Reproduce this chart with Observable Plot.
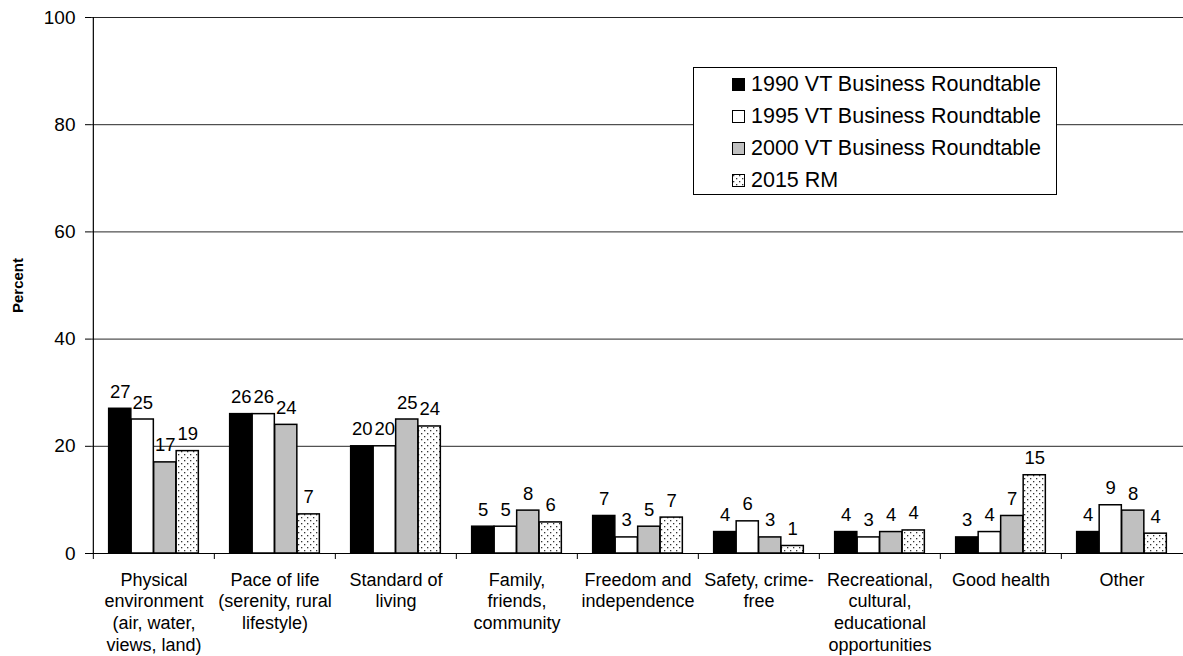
<!DOCTYPE html>
<html>
<head>
<meta charset="utf-8">
<script src="https://cdn.jsdelivr.net/npm/d3@7"></script>
<script src="https://cdn.jsdelivr.net/npm/@observablehq/plot@0.6"></script>
<style>
  body { margin: 0; background: #fff; }
  #wrap { position: relative; width: 1183px; height: 656px; font-family: "Liberation Sans", Arial, Helvetica, sans-serif; }
  #legend { position: absolute; left: 693px; top: 67px; width: 362px; height: 126px; border: 1px solid #000; background: #fff; box-sizing: content-box; }
  .row { position: absolute; left: 38px; height: 24px; display: flex; align-items: center; font-size: 21.5px; color: #000; white-space: nowrap; }
  .row svg { margin-right: 6px; }
</style>
</head>
<body>
<div id="wrap"></div>
<script>
const categories = [
  "Physical\nenvironment\n(air, water,\nviews, land)",
  "Pace of life\n(serenity, rural\nlifestyle)",
  "Standard of\nliving",
  "Family,\nfriends,\ncommunity",
  "Freedom and\nindependence",
  "Safety, crime-\nfree",
  "Recreational,\ncultural,\neducational\nopportunities",
  "Good health",
  "Other"
];
const seriesNames = [
  "1990 VT Business Roundtable",
  "1995 VT Business Roundtable",
  "2000 VT Business Roundtable",
  "2015 RM"
];
const values1990 = [27, 26, 20, 5, 7, 4, 4, 3, 4];
const values1995 = [25, 26, 20, 5, 3, 6, 3, 4, 9];
const values2000 = [17, 24, 25, 8, 5, 3, 4, 7, 8];
const values2015 = [19.1, 7.3, 23.7, 5.8, 6.7, 1.4, 4.3, 14.6, 3.7];
const yTicks = [0, 20, 40, 60, 80, 100];

const seriesValues = [values1990, values1995, values2000, values2015];
const fills = ["#000000", "#ffffff", "#c0c0c0", "url(#dots)"];

const rows = [];
seriesNames.forEach((s, si) => {
  categories.forEach((c, ci) => rows.push({series: s, si, category: c, value: seriesValues[si][ci]}));
});

const W = 1183, H = 656, mL = 91, mR = 0, mT = 17, mB = 103;
const bw = (W - mL - mR) / categories.length;
const barW = 22.5;
const start = (bw - 4 * barW) / 2;
const font = "Liberation Sans, Arial, Helvetica, sans-serif";

const marks = [
  Plot.gridY(yTicks.filter(t => t > 0), {stroke: "#000", strokeOpacity: 0.85, strokeWidth: 1})
];
seriesNames.forEach((s, si) => {
  const data = rows.filter(d => d.si === si);
  marks.push(Plot.barY(data, {
    x: "category", y: "value", fill: fills[si], stroke: "#000", strokeWidth: 1.5,
    insetLeft: start + barW * si, insetRight: bw - start - barW * (si + 1)
  }));
  marks.push(Plot.text(data, {
    x: "category", y: "value", text: d => d3.format(".0f")(d.value),
    dx: (si - 1.5) * barW, dy: -11, lineAnchor: "bottom", fontSize: 18.5, fill: "#000"
  }));
});
marks.push(
  Plot.ruleY([0], {stroke: "#000", strokeWidth: 1.2}),
  Plot.ruleX([categories[0]], {dx: -bw / 2, stroke: "#000", strokeWidth: 1.2}),
  Plot.ruleX(categories, {x: d => d, dx: -bw / 2, y1: 0, y2: 0, insetBottom: -6, stroke: "#000"}),
  Plot.axisY({ticks: yTicks, tickSize: 6, tickPadding: 10, fontSize: 19, label: null, stroke: "#000"}),
  Plot.text(categories, {x: d => d, text: d => d, frameAnchor: "bottom", lineAnchor: "top", dy: 17, lineHeight: 1.2, fontSize: 18, fill: "#000"}),
  Plot.text(["Percent"], {frameAnchor: "left", textAnchor: "middle", lineAnchor: "middle", dx: -73, rotate: -90, fontSize: 15, fontWeight: "bold", fill: "#000"})
);

const svg = Plot.plot({
  width: W, height: H,
  marginLeft: mL, marginRight: mR, marginTop: mT, marginBottom: mB,
  style: {fontFamily: font, fontSize: "18px", background: "#fff", color: "#000"},
  x: {type: "band", domain: categories, padding: 0, axis: null},
  y: {domain: [0, 100], axis: null},
  marks
});
svg.insertAdjacentHTML("afterbegin",
  '<defs><pattern id="dots" width="6" height="6" patternUnits="userSpaceOnUse">' +
  '<rect width="6" height="6" fill="#fff"/>' +
  '<rect x="1" y="1" width="1.3" height="1.3" fill="#333"/>' +
  '<rect x="4" y="4" width="1.3" height="1.3" fill="#333"/></pattern></defs>');

const wrap = document.getElementById("wrap");
wrap.appendChild(svg);

const legend = document.createElement("div");
legend.id = "legend";
seriesNames.forEach((s, i) => {
  const row = document.createElement("div");
  row.className = "row";
  row.style.top = (4 + i * 32) + "px";
  row.innerHTML = `<svg width="13" height="13"><rect x="0.5" y="0.5" width="12" height="12" fill="${fills[i]}" stroke="#000" stroke-width="1"/></svg><span>${s}</span>`;
  legend.appendChild(row);
});
wrap.appendChild(legend);
</script>
</body>
</html>
